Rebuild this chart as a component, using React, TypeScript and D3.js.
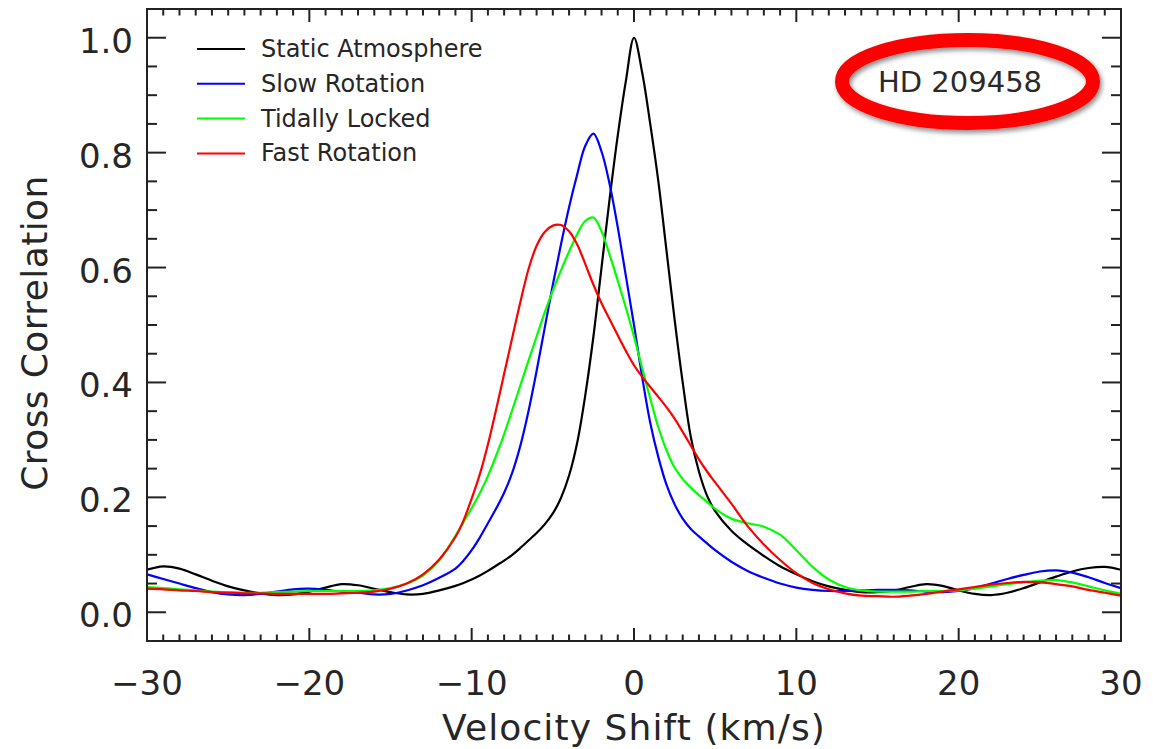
import React from 'react';
import * as d3 from 'd3';

const velocity = [
  -30, -29, -28, -27, -26, -25, -24, -23, -22, -21, -20, -19, -18, -17, -16, -15, -14, -13, -12,
  -11, -10.5, -10, -9.5, -9, -8.5, -8, -7.5, -7, -6.5, -6, -5.5, -5, -4.5, -4, -3.5, -3, -2.5, -2, -1.5, -1, -0.5,
  0, 0.5, 1, 1.5, 2, 2.5, 3, 3.5, 4, 4.5, 5,
  6, 7, 8, 9, 10, 11, 12, 13, 14, 15, 16, 17, 18, 19, 20, 21, 22, 23, 24, 25, 26, 27, 28, 29, 30,
];

const staticAtmosphere = [
  0.074, 0.080, 0.076, 0.066, 0.055, 0.045, 0.038, 0.033, 0.030, 0.031, 0.036, 0.043, 0.049, 0.047, 0.041, 0.035, 0.031, 0.032, 0.038,
  0.046, 0.051, 0.057, 0.064, 0.072, 0.081, 0.090, 0.100, 0.112, 0.125, 0.138, 0.153, 0.172, 0.199, 0.238, 0.295, 0.378, 0.48, 0.60, 0.72, 0.83, 0.925,
  1.0, 0.94, 0.85, 0.75, 0.63, 0.51, 0.40, 0.305, 0.245, 0.203, 0.176,
  0.142, 0.118, 0.098, 0.080, 0.066, 0.054, 0.045, 0.039, 0.035, 0.035, 0.038, 0.044, 0.049, 0.046, 0.038, 0.032, 0.030, 0.034, 0.042, 0.052, 0.062, 0.071, 0.077, 0.079, 0.074,
];

const slowRotation = [
  0.066, 0.058, 0.050, 0.042, 0.035, 0.031, 0.030, 0.032, 0.036, 0.040, 0.041, 0.039, 0.036, 0.034, 0.031, 0.032, 0.038, 0.047, 0.060,
  0.076, 0.090, 0.108, 0.130, 0.155, 0.180, 0.208, 0.243, 0.290, 0.350, 0.420, 0.495, 0.57, 0.64, 0.705, 0.762, 0.812, 0.833, 0.802, 0.745, 0.67, 0.585,
  0.50, 0.41, 0.33, 0.27, 0.222, 0.188, 0.163, 0.145, 0.132, 0.120, 0.108,
  0.088, 0.072, 0.060, 0.050, 0.043, 0.039, 0.037, 0.037, 0.038, 0.039, 0.039, 0.038, 0.036, 0.035, 0.037, 0.042, 0.050, 0.058, 0.065, 0.071, 0.073, 0.069, 0.061, 0.051, 0.042,
];

const tidallyLocked = [
  0.044, 0.042, 0.040, 0.038, 0.036, 0.035, 0.034, 0.034, 0.035, 0.036, 0.037, 0.037, 0.037, 0.037, 0.038, 0.042, 0.050, 0.064, 0.090,
  0.133, 0.157, 0.181, 0.207, 0.237, 0.272, 0.310, 0.352, 0.395, 0.438, 0.48, 0.522, 0.56, 0.595, 0.628, 0.658, 0.681, 0.687, 0.663, 0.622, 0.577, 0.53,
  0.48, 0.425, 0.372, 0.322, 0.282, 0.252, 0.232, 0.217, 0.204, 0.192, 0.180,
  0.163, 0.155, 0.149, 0.135, 0.108, 0.079, 0.057, 0.044, 0.038, 0.036, 0.036, 0.036, 0.037, 0.037, 0.038, 0.041, 0.045, 0.049, 0.052, 0.055, 0.056, 0.052, 0.045, 0.038, 0.032,
];

const fastRotation = [
  0.041, 0.040, 0.038, 0.037, 0.035, 0.034, 0.033, 0.033, 0.032, 0.032, 0.032, 0.032, 0.033, 0.034, 0.036, 0.041, 0.050, 0.066, 0.092,
  0.131, 0.160, 0.198, 0.240, 0.292, 0.352, 0.415, 0.478, 0.540, 0.597, 0.638, 0.662, 0.673, 0.674, 0.663, 0.64, 0.606, 0.570, 0.538, 0.510, 0.482, 0.455,
  0.43, 0.41, 0.392, 0.375, 0.357, 0.337, 0.314, 0.290, 0.266, 0.245, 0.226,
  0.189, 0.150, 0.118, 0.091, 0.068, 0.051, 0.040, 0.033, 0.029, 0.028, 0.027, 0.029, 0.032, 0.036, 0.040, 0.044, 0.048, 0.051, 0.053, 0.052, 0.049, 0.045, 0.039, 0.034, 0.029,
];

const seriesNames = ['Static Atmosphere', 'Slow Rotation', 'Tidally Locked', 'Fast Rotation'];
const seriesColors = ['#000000', '#0000ff', '#00ff00', '#ff0000'];
const seriesValues = [staticAtmosphere, slowRotation, tidallyLocked, fastRotation];

const xTicks = [-30, -20, -10, 0, 10, 20, 30];
const yTicks = [0, 0.2, 0.4, 0.6, 0.8, 1.0];
const xLabel = 'Velocity Shift (km/s)';
const yLabel = 'Cross Correlation';
const targetName = 'HD 209458';

const FONT = '"DejaVu Sans", Verdana, sans-serif';

export default function App() {
  const W = 1153;
  const H = 749;
  const left = 147, right = 1121, top = 9, bottom = 641;
  const x = d3.scaleLinear().domain([-30, 30]).range([left, right]);
  const y = d3.scaleLinear().domain([-0.05, 1.05]).range([bottom, top]);

  const lineGen = d3
    .line<number>()
    .x((_, i) => x(velocity[i]))
    .y((d) => y(d))
    .curve(d3.curveCatmullRom.alpha(0.5));

  const xMinor = d3.range(-29, 30, 1).filter((v) => v % 10 !== 0);
  const yMinor = d3
    .range(0, 21, 1)
    .map((k) => Math.round((k * 0.05) * 100) / 100)
    .filter((v) => Math.round(v * 100) % 20 !== 0);

  const yMajLen = 19, yMinLen = 10, xMajLen = 13, xMinLen = 6.5;
  const tc = '#222';
  const txt = '#262626';

  return (
    <svg
      width={W}
      height={H}
      viewBox={`0 0 ${W} ${H}`}
      style={{ position: 'absolute', left: 0, top: 0, background: '#fff' }}
    >
      <defs>
        <clipPath id="plotClip">
          <rect x={left} y={top} width={right - left} height={bottom - top} />
        </clipPath>
        <filter id="shadow" x="-20%" y="-30%" width="140%" height="160%">
          <feDropShadow dx="2" dy="3" stdDeviation="2.5" floodColor="#000" floodOpacity="0.45" />
        </filter>
      </defs>
      <rect x={0} y={0} width={W} height={H} fill="#fff" />

      {/* curves */}
      <g clipPath="url(#plotClip)">
        {seriesValues.map((vals, i) => (
          <path
            key={seriesNames[i]}
            d={lineGen(vals) || ''}
            fill="none"
            stroke={seriesColors[i]}
            strokeWidth={2.2}
            strokeLinejoin="round"
          />
        ))}
      </g>

      {/* frame */}
      <rect x={left} y={top} width={right - left} height={bottom - top} fill="none" stroke={tc} strokeWidth={2} />

      {/* y ticks */}
      {yTicks.map((v) => (
        <g key={'yt' + v}>
          <line x1={left} x2={left + yMajLen} y1={y(v)} y2={y(v)} stroke={tc} strokeWidth={2} />
          <line x1={right} x2={right - yMajLen} y1={y(v)} y2={y(v)} stroke={tc} strokeWidth={2} />
          <text x={133} y={y(v) + 15} textAnchor="end" fontFamily={FONT} fontSize={34} fill={txt}>
            {v.toFixed(1)}
          </text>
        </g>
      ))}
      {yMinor.map((v) => (
        <g key={'ym' + v}>
          <line x1={left} x2={left + yMinLen} y1={y(v)} y2={y(v)} stroke={tc} strokeWidth={2} />
          <line x1={right} x2={right - yMinLen} y1={y(v)} y2={y(v)} stroke={tc} strokeWidth={2} />
        </g>
      ))}

      {/* x ticks */}
      {xTicks.map((v) => (
        <g key={'xt' + v}>
          <line x1={x(v)} x2={x(v)} y1={bottom} y2={bottom - xMajLen} stroke={tc} strokeWidth={2} />
          <line x1={x(v)} x2={x(v)} y1={top} y2={top + xMajLen} stroke={tc} strokeWidth={2} />
          <text x={x(v)} y={695} textAnchor="middle" fontFamily={FONT} fontSize={34} fill={txt}>
            {v < 0 ? '\u2212' + Math.abs(v) : String(v)}
          </text>
        </g>
      ))}
      {xMinor.map((v) => (
        <g key={'xm' + v}>
          <line x1={x(v)} x2={x(v)} y1={bottom} y2={bottom - xMinLen} stroke={tc} strokeWidth={2} />
          <line x1={x(v)} x2={x(v)} y1={top} y2={top + xMinLen} stroke={tc} strokeWidth={2} />
        </g>
      ))}

      {/* axis titles */}
      <text
        x={(left + right) / 2}
        y={740}
        textAnchor="middle"
        fontFamily={FONT}
        fontSize={36}
        letterSpacing={1.1}
        fill={txt}
      >
        {xLabel}
      </text>
      <text
        transform={`translate(47, 333) rotate(-90)`}
        textAnchor="middle"
        fontFamily={FONT}
        fontSize={36}
        letterSpacing={0.4}
        fill={txt}
      >
        {yLabel}
      </text>

      {/* legend */}
      {seriesNames.map((name, i) => {
        const ly = 49 + i * 34.8;
        return (
          <g key={'lg' + name}>
            <line x1={197} x2={245} y1={ly} y2={ly} stroke={seriesColors[i]} strokeWidth={2} />
            <text x={261} y={ly + 8} fontFamily={FONT} fontSize={24} fill={txt}>
              {name}
            </text>
          </g>
        );
      })}

      {/* annotation ellipse */}
      <ellipse
        cx={967.5}
        cy={81.5}
        rx={125.5}
        ry={41.5}
        fill="none"
        stroke="#ff0000"
        strokeWidth={14}
        filter="url(#shadow)"
      />
      <text x={960} y={92} textAnchor="middle" fontFamily={FONT} fontSize={29} fill="#2a2a2a">
        {targetName}
      </text>
    </svg>
  );
}
